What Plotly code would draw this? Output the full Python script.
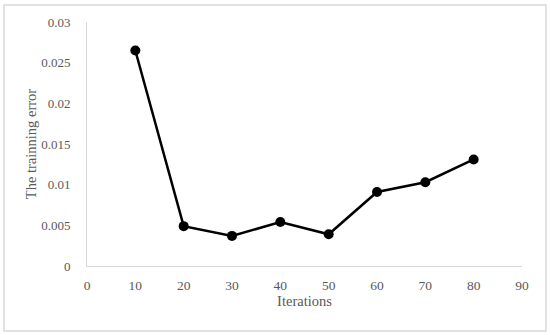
import plotly.graph_objects as go

iterations = [10, 20, 30, 40, 50, 60, 70, 80]
training_error = [0.0265, 0.0049, 0.0037, 0.0054, 0.0039, 0.0091, 0.0103, 0.0131]

x_ticks = [0, 10, 20, 30, 40, 50, 60, 70, 80, 90]
y_ticks = [0, 0.005, 0.01, 0.015, 0.02, 0.025, 0.03]
y_ticktext = ["0", "0.005", "0.01", "0.015", "0.02", "0.025", "0.03"]

W, H = 550, 335
L, R, T, B = 87, 28, 22, 69
pw, ph = W - L - R, H - T - B

fig = go.Figure()
fig.add_trace(go.Scatter(
    x=iterations, y=training_error, mode="lines+markers",
    line=dict(color="black", width=2.5),
    marker=dict(color="black", size=10),
    showlegend=False, cliponaxis=False,
))

font = dict(family="Liberation Serif, Times New Roman, serif", color="#595959")

fig.update_layout(
    width=W, height=H,
    margin=dict(l=L, r=R, t=T, b=B, autoexpand=False),
    paper_bgcolor="white", plot_bgcolor="white",
    font=dict(**font, size=13),
    xaxis=dict(range=[0, 90], tickvals=x_ticks, showgrid=False, zeroline=False,
               showline=True, linecolor="#d9d9d9", linewidth=1, ticks="", automargin=False,
               tickfont=dict(**font, size=13.5), ticklabelstandoff=7,
               title=dict(text="Iterations", font=dict(**font, size=14.5), standoff=3)),
    yaxis=dict(range=[0, 0.03], tickvals=y_ticks, ticktext=y_ticktext, showgrid=False,
               zeroline=False, showline=True, linecolor="#d9d9d9", linewidth=1, ticks="",
               automargin=False,
               tickfont=dict(**font, size=13), ticklabelstandoff=13,
               title=dict(text="The trainning error", font=dict(**font, size=14.5), standoff=1)),
    shapes=[dict(type="rect", xref="paper", yref="paper",
                 x0=(4 - L) / pw, x1=(546 - L) / pw,
                 y0=(H - B - 331) / ph, y1=(H - B - 5) / ph,
                 line=dict(color="#d9d9d9", width=1.5), fillcolor="rgba(0,0,0,0)", layer="below")],
)

fig.write_html("out.html", config={"displayModeBar": False},
               post_script="document.body.style.margin='0';document.body.style.overflow='hidden';")
